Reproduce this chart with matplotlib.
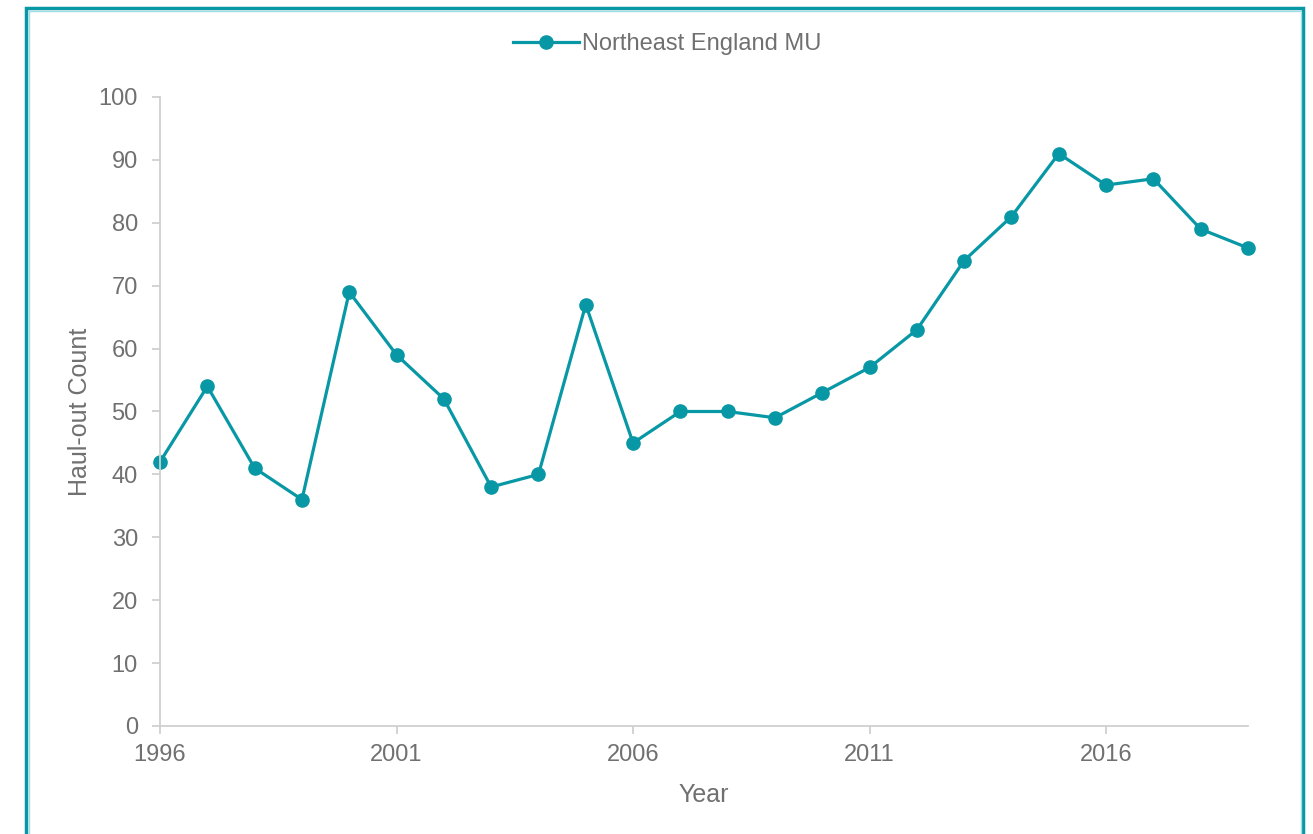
import matplotlib.pyplot as plt
from matplotlib.patches import Rectangle

plt.rcParams['font.family'] = ['Liberation Sans', 'DejaVu Sans']

# Data
years = list(range(1996, 2020))
counts = [42, 54, 41, 36, 69, 59, 52, 38, 40, 67, 45, 50,
          50, 49, 53, 57, 63, 74, 81, 91, 86, 87, 79, 76]
x_ticks = [1996, 2001, 2006, 2011, 2016]
y_ticks = list(range(0, 101, 10))

teal = '#0898A5'
grey_text = '#707070'
axis_grey = '#D0D0D0'

fig = plt.figure(figsize=(13.13, 8.34), dpi=100)
ax = fig.add_axes([0.1219, 0.1295, 0.8286, 0.7542])

ax.plot(years, counts, color=teal, linewidth=2.3, marker='o',
        markersize=9.5, label='Northeast England MU', clip_on=False)

ax.set_xlim(1996, 2019)
ax.set_ylim(0, 100)
ax.set_xticks(x_ticks)
ax.set_yticks(y_ticks)

for s in ['top', 'right']:
    ax.spines[s].set_visible(False)
for s in ['left', 'bottom']:
    ax.spines[s].set_color(axis_grey)
    ax.spines[s].set_linewidth(1.3)

ax.tick_params(axis='both', colors=axis_grey, labelcolor=grey_text,
               labelsize=17, length=6, width=1.3)
ax.tick_params(axis='x', pad=7)
ax.tick_params(axis='y', pad=10)

ax.set_xlabel('Year', fontsize=18, color=grey_text, labelpad=12)
ax.set_ylabel('Haul-out Count', fontsize=18, color=grey_text, labelpad=5)

ax.legend(loc='center', bbox_to_anchor=(0.508, 0.947), bbox_transform=fig.transFigure,
          frameon=False, fontsize=17, labelcolor=grey_text,
          handlelength=2.8, handletextpad=0.1)

# Teal frame around the chart area
fig.patches.append(Rectangle((26 / 1313, -0.05), (1303 - 26) / 1313, 1.05 - 8 / 834,
                             transform=fig.transFigure, fill=False,
                             edgecolor=teal, linewidth=2.5))
fig.patches.append(Rectangle((28.5 / 1313, -0.05), (1300.5 - 28.5) / 1313, 1.05 - 10.5 / 834,
                             transform=fig.transFigure, fill=False,
                             edgecolor='#9FDCE3', linewidth=1))

fig.savefig('out.png', dpi=100)
